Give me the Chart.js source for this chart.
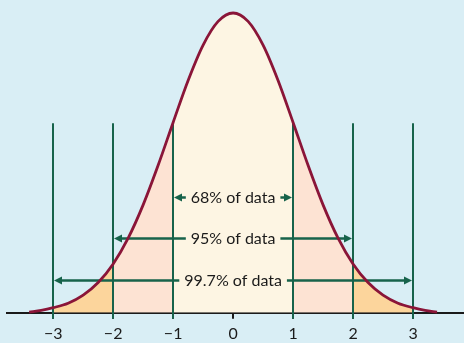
<!DOCTYPE html>
<html>
<head>
<meta charset="utf-8">
<style>
  html, body { margin: 0; padding: 0; background: #fff; }
</style>
<script src="https://cdn.jsdelivr.net/npm/chart.js@4"></script>
</head>
<body>
<canvas id="chart" width="464" height="355"></canvas>
<script>
// curve heights, relative to the peak
const curveX = [-3.4, -3.2, -3, -2.75, -2.5, -2.25, -2, -1.75, -1.5, -1.25, -1, -0.75, -0.5, -0.25,
                0, 0.25, 0.5, 0.75, 1, 1.25, 1.5, 1.75, 2, 2.25, 2.5, 2.75, 3, 3.2, 3.4];
const curveY = [0.002, 0.008, 0.017, 0.032, 0.059, 0.101, 0.163, 0.249, 0.360, 0.492, 0.635, 0.775, 0.893, 0.972,
                1.000, 0.972, 0.893, 0.775, 0.635, 0.492, 0.360, 0.249, 0.163, 0.101, 0.059, 0.032, 0.017, 0.008, 0.002];

// axis ticks
const tickValues = [-3, -2, -1, 0, 1, 2, 3];
const tickLabels = ['\u22123', '\u22122', '\u22121', '0', '1', '2', '3'];

// the three ranges (in standard deviations) and their labels
const bandEdges = [1, 2, 3];
const bandLabels = ['68% of data', '95% of data', '99.7% of data'];

const GREEN = '#17634b';
const RED = '#8a1538';
const FONT = 'Lato, "DejaVu Sans", sans-serif';

function curveBetween(a, b) {
    const pts = [];
    curveX.forEach((x, i) => {
        if (x >= a && x <= b) pts.push({ x: x, y: curveY[i] });
    });
    return pts;
}

function fillSet(a, b, color) {
    return {
        data: curveBetween(a, b),
        fill: 'origin',
        backgroundColor: color,
        borderColor: color,
        borderWidth: 0,
        pointRadius: 0,
        cubicInterpolationMode: 'monotone'
    };
}

// the curve comes first so Chart.js draws it last (on top)
const datasets = [
    {
        data: curveBetween(-10, 10),
        fill: false,
        borderColor: RED,
        borderWidth: 2.8,
        pointRadius: 0,
        cubicInterpolationMode: 'monotone',
        clip: false
    },
    fillSet(-1, 1, '#fdf5e3'),
    fillSet(-2, -1, '#fde3d3'),
    fillSet(1, 2, '#fde3d3'),
    fillSet(-3, -2, '#fcd59c'),
    fillSet(2, 3, '#fcd59c')
];
const curveIndex = 0;

// 📌 background, std-dev lines and arrows
const stdDevPlugin = {
    id: 'stdDev',
    beforeDraw(chart) {
        const ctx = chart.ctx;
        ctx.save();
        ctx.fillStyle = '#fff';
        ctx.fillRect(0, 0, chart.width, chart.height);
        ctx.fillStyle = '#d9eef5';
        ctx.fillRect(0, 0, chart.width, 343);
        ctx.restore();
    },
    beforeDatasetDraw(chart, args) {
        if (args.index !== curveIndex) return;
        const ctx = chart.ctx;
        const xs = chart.scales.x, ys = chart.scales.y;
        const base = ys.getPixelForValue(0);
        const top = ys.getPixelForValue(0.632);
        ctx.save();
        ctx.strokeStyle = GREEN;
        ctx.fillStyle = GREEN;
        ctx.lineWidth = 2;
        tickValues.forEach(v => {
            if (v === 0) return;
            const px = Math.round(xs.getPixelForValue(v));
            ctx.beginPath();
            ctx.moveTo(px, top);
            ctx.lineTo(px, base + 6);
            ctx.stroke();
        });

        const levels = [0.385, 0.248, 0.111];
        const cx = xs.getPixelForValue(0);
        ctx.font = '16px ' + FONT;
        ctx.textAlign = 'center';
        ctx.textBaseline = 'middle';
        bandEdges.forEach((e, i) => {
            const y = Math.round(ys.getPixelForValue(levels[i])) + 0.5;
            const left = Math.round(xs.getPixelForValue(-e)) + 1;
            const right = Math.round(xs.getPixelForValue(e)) - 1;
            const w = ctx.measureText(bandLabels[i]).width;
            ctx.lineWidth = 2.5;
            ctx.beginPath();
            ctx.moveTo(left + 4, y);
            ctx.lineTo(cx - w / 2 - 5, y);
            ctx.moveTo(cx + w / 2 + 5, y);
            ctx.lineTo(right - 4, y);
            ctx.stroke();
            ctx.beginPath();
            ctx.moveTo(left, y);
            ctx.lineTo(left + 8, y - 4);
            ctx.lineTo(left + 8, y + 4);
            ctx.closePath();
            ctx.moveTo(right, y);
            ctx.lineTo(right - 8, y - 4);
            ctx.lineTo(right - 8, y + 4);
            ctx.closePath();
            ctx.fill();
            ctx.fillStyle = '#1a1a1a';
            ctx.fillText(bandLabels[i], cx, y);
            ctx.fillStyle = GREEN;
        });
        ctx.restore();
    }
};

new Chart(document.getElementById('chart'), {
    type: 'line',
    data: { datasets: datasets },
    options: {
        responsive: false,
        animation: false,
        layout: { padding: { left: 7, right: 0, top: 13, bottom: 7 } },
        plugins: { legend: { display: false }, tooltip: { enabled: false } },
        scales: {
            x: {
                type: 'linear',
                min: -3.77,
                max: 3.85,
                afterBuildTicks: s => { s.ticks = tickValues.map(v => ({ value: v })); },
                ticks: {
                    autoSkip: false,
                    maxRotation: 0,
                    padding: 5,
                    color: '#1a1a1a',
                    font: { family: FONT, size: 16 },
                    callback: v => tickLabels[tickValues.indexOf(v)]
                },
                grid: { drawOnChartArea: false, tickLength: 6, color: '#1a1a1a', lineWidth: 2 },
                border: { color: '#1a1a1a', width: 2 }
            },
            y: { display: false, min: 0, max: 1 }
        }
    },
    plugins: [stdDevPlugin]
});
</script>
</body>
</html>
